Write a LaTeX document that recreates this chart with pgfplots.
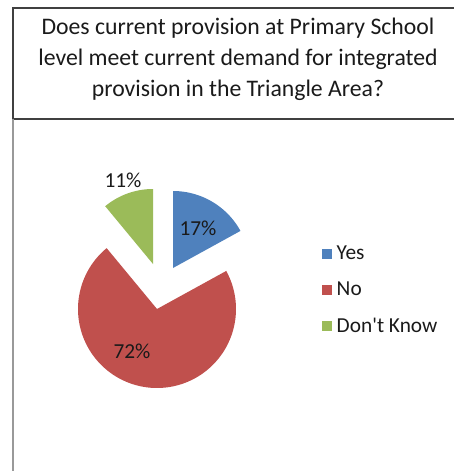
\documentclass[border=0pt]{standalone}
\usepackage{pgfplots}
\pgfplotsset{compat=1.18}
\usepackage{fontspec}
\setmainfont{Carlito}[Ligatures=TeXOff]

\definecolor{pieblue}{HTML}{4F81BD}
\definecolor{piered}{HTML}{C0504D}
\definecolor{piegreen}{HTML}{9BBB59}
\definecolor{txt}{HTML}{1A1A1A}

\begin{document}
\begin{tikzpicture}
	\useasboundingbox (0,0) rectangle (340.5pt,353.25pt);
	\begin{axis}[
		hide axis,
		scale only axis,
		width=340.5pt, height=353.25pt,
		xmin=0, xmax=454,
		ymin=0, ymax=471,
		y dir=reverse,
		clip=false,
		legend image code/.code={\fill[#1] (0pt,-3.75pt) rectangle (7.5pt,3.75pt);},
		legend style={at={(0.700,0.384)}, anchor=west, draw=none, fill=none,
			font=\fontsize{16}{18}\selectfont\color{txt}, row sep=11pt,
			nodes={inner xsep=3.5pt}},
		legend cell align=left,
		]
		
		% slices: Yes 17%, No 72%, Don't Know 11% (angles clockwise from 12 o'clock)
		\addplot[fill=pieblue, draw=none, domain=0:61.2, samples=60]
			({173+77*sin(x)},{268-77*cos(x)}) -- (axis cs:173,268) -- cycle;
		\addlegendentry{Yes}
		\addplot[fill=piered, draw=none, domain=61.2:320.4, samples=150]
			({157+79*sin(x)},{309-79*cos(x)}) -- (axis cs:157,309) -- cycle;
		\addlegendentry{No}
		\addplot[fill=piegreen, draw=none, domain=320.4:360, samples=40]
			({153+75*sin(x)},{264-75*cos(x)}) -- (axis cs:153,264) -- cycle;
		\addlegendentry{Don't Know}
		
		% percentage labels
		\node[txt, font=\fontsize{16}{18}\selectfont] at (axis cs:198,228) {17\%};
		\node[txt, font=\fontsize{16}{18}\selectfont] at (axis cs:132,351) {72\%};
		\node[txt, font=\fontsize{16}{18}\selectfont] at (axis cs:123,180) {11\%};
		
		% title box and frame
		\draw[black!75, line width=1.5pt] (axis cs:13,119) -- (axis cs:13,8) -- (axis cs:454,8);
		\draw[black!75, line width=1.5pt] (axis cs:13,119) -- (axis cs:454,119);
		\draw[black!40, line width=1.2pt] (axis cs:13,119) -- (axis cs:13,471);
		\node[txt, align=center, font=\fontsize{17.8}{23.25}\selectfont] at (axis cs:238,59)
			{Does current provision at Primary School\\level meet current demand for integrated\\provision in the Triangle Area?};
		
	\end{axis}
\end{tikzpicture}
\end{document}
